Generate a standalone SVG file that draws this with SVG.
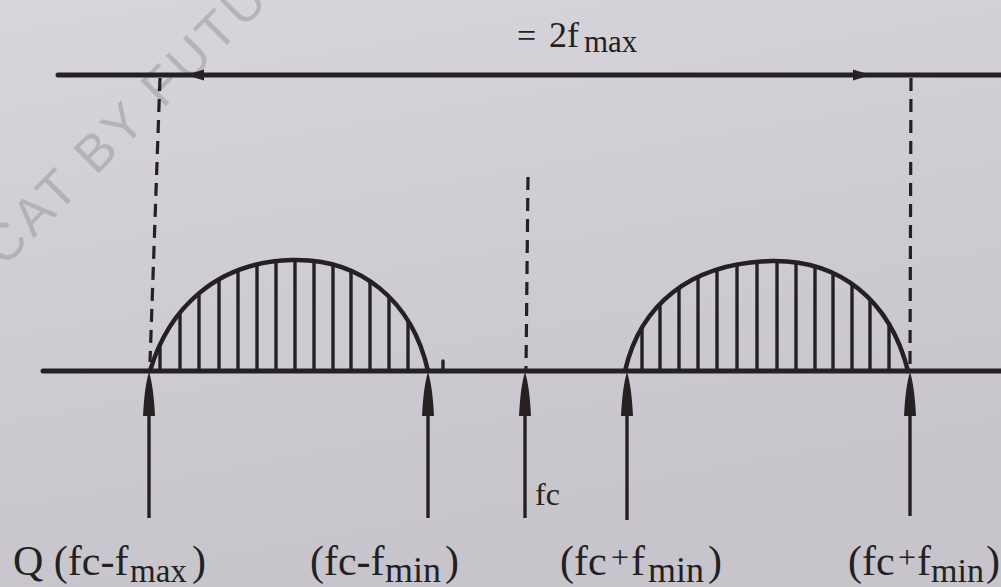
<svg xmlns="http://www.w3.org/2000/svg" width="1001" height="587" viewBox="0 0 1001 587">
  <defs>
    <linearGradient id="paper" x1="0" y1="0" x2="0.3" y2="1">
      <stop offset="0" stop-color="#d7d6db"/>
      <stop offset="0.5" stop-color="#cfcdd4"/>
      <stop offset="1" stop-color="#c7c4cb"/>
    </linearGradient>
    <marker id="head" markerUnits="userSpaceOnUse" viewBox="0 0 44 14" refX="16" refY="7" markerWidth="44" markerHeight="14" orient="auto">
      <path d="M0,1 Q30,2.5 44,7 Q30,11.5 0,13 Z" fill="#262023"/>
    </marker>
    <clipPath id="clipL">
      <path d="M150,371 C168,310 215,262 292,260 C360,258 412,300 428,371 Z"/>
    </clipPath>
    <clipPath id="clipR">
      <path d="M625,371 C640,305 690,263 772,261 C840,260 890,300 908,371 Z"/>
    </clipPath>
    <style>
      .ink { stroke: #262023; fill: none; stroke-linecap: round; }
      .axis { stroke-width: 5; }
      .hump { stroke-width: 4.5; }
      .bar { stroke-width: 3.4; }
      .dash { stroke-width: 3.2; stroke-dasharray: 13 8; stroke-linecap: butt; }
      .arrow { stroke: #262023; stroke-width: 3.4; fill: none; marker-end: url(#head); }
      .txt { font-family: "Liberation Serif", "Times New Roman", serif; fill: #231f22; }
      .wm { font-family: "Liberation Sans", Arial, sans-serif; fill: #8f8e94; opacity: 0.45; font-size: 52px; letter-spacing: 4px; }
    </style>
  </defs>

  <rect x="0" y="0" width="1001" height="587" fill="url(#paper)"/>

  <text class="wm" x="4" y="268" transform="rotate(-45 4 268)">CAT BY FUTU</text>

  <g id="top-span">
    <line class="ink axis" x1="58" y1="75" x2="1001" y2="75"/>
    <path d="M186,75 L204,69.5 L204,80.5 Z" fill="#262023"/>
    <path d="M871,75 L853,69.5 L853,80.5 Z" fill="#262023"/>
    <text class="txt" font-size="34" x="517" y="47">=</text>
    <text class="txt" font-size="36" x="549" y="47">2f</text>
    <text class="txt" font-size="31" x="584" y="52">max</text>
  </g>

  <g id="dashed-guides">
    <line class="ink dash" x1="160" y1="78" x2="150" y2="362"/>
    <line class="ink dash" x1="911" y1="78" x2="910" y2="365"/>
    <line class="ink dash" x1="528" y1="177" x2="526" y2="370"/>
  </g>

  <g id="axis">
    <line class="ink axis" x1="43" y1="371" x2="1001" y2="371"/>
    <line class="ink bar" x1="443" y1="361" x2="443" y2="371"/>
  </g>

  <g id="hump-left">
    <g clip-path="url(#clipL)">
      <path class="ink bar" d="M160,250V371 M180,250V371 M199,250V371 M219,250V371 M238,250V371 M257,250V371 M276,250V371 M295,250V371 M314,250V371 M333,250V371 M351,250V371 M370,250V371 M389,250V371 M408,250V371"/>
    </g>
    <path class="ink hump" d="M150,371 C168,310 215,262 292,260 C360,258 412,300 428,371"/>
  </g>

  <g id="hump-right">
    <g clip-path="url(#clipR)">
      <path class="ink bar" d="M642,250V371 M660,250V371 M679,250V371 M698,250V371 M717,250V371 M737,250V371 M757,250V371 M777,250V371 M796,250V371 M815,250V371 M833,250V371 M852,250V371 M870,250V371 M889,250V371"/>
    </g>
    <path class="ink hump" d="M625,371 C640,305 690,263 772,261 C840,260 890,300 908,371"/>
  </g>

  <g id="connectors">
    <line class="arrow" x1="149" y1="518" x2="149" y2="400"/>
    <line class="arrow" x1="428" y1="518" x2="428" y2="400"/>
    <line class="arrow" x1="525" y1="518" x2="525" y2="400"/>
    <line class="arrow" x1="627" y1="520" x2="627" y2="400"/>
    <line class="arrow" x1="910" y1="516" x2="910" y2="400"/>
  </g>

  <g id="label-fc">
    <text class="txt" font-size="32" x="535" y="505">fc</text>
  </g>

  <g id="label-fc-fmax">
    <text class="txt" font-size="42" x="13" y="575">Q (fc-f</text>
    <text class="txt" font-size="33" x="130" y="582">max</text>
    <text class="txt" font-size="42" x="192" y="575">)</text>
  </g>

  <g id="label-fc-fmin">
    <text class="txt" font-size="42" x="310" y="575">(fc-f</text>
    <text class="txt" font-size="36" x="385" y="582">min</text>
    <text class="txt" font-size="42" x="445" y="575">)</text>
  </g>

  <g id="label-fc-plus-fmin-1">
    <text class="txt" font-size="42" x="560" y="575">(fc</text>
    <text class="txt" font-size="32" x="611" y="568">+</text>
    <text class="txt" font-size="42" x="631" y="575">f</text>
    <text class="txt" font-size="36" x="648" y="582">min</text>
    <text class="txt" font-size="42" x="708" y="575">)</text>
  </g>

  <g id="label-fc-plus-fmin-2">
    <text class="txt" font-size="42" x="848" y="575">(fc</text>
    <text class="txt" font-size="32" x="898" y="568">+</text>
    <text class="txt" font-size="42" x="917" y="575">f</text>
    <text class="txt" font-size="34" x="931" y="582">min</text>
    <text class="txt" font-size="42" x="986" y="575">)</text>
  </g>
</svg>
